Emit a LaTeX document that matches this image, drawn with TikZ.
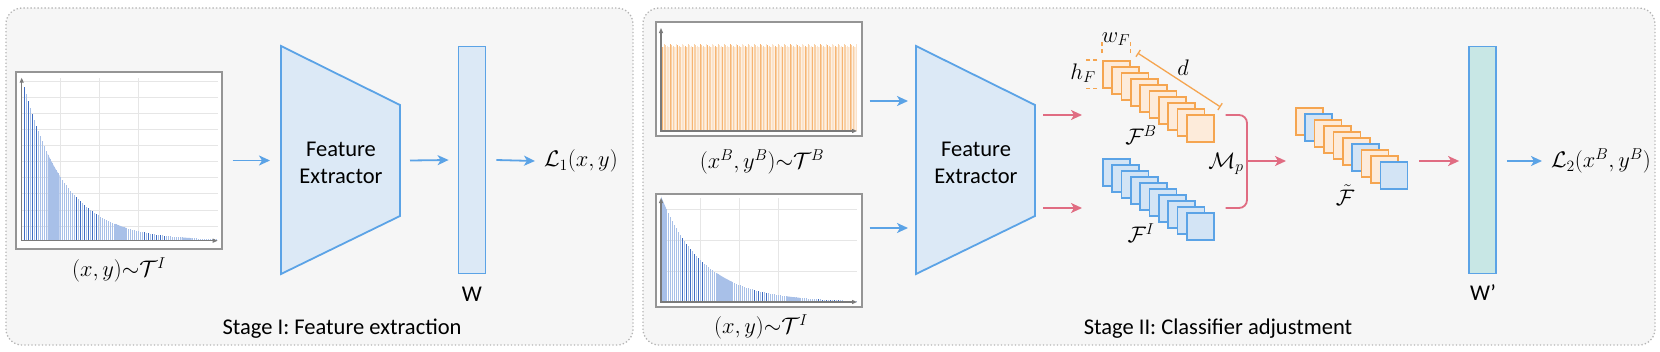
\RequirePackage{fix-cm}
\documentclass[tikz,border=0pt]{standalone}
\usepackage{fontspec}
\setmainfont{Carlito}
\usetikzlibrary{arrows.meta,calc,positioning}

\definecolor{panelbg}{HTML}{F6F6F6}
\definecolor{framegray}{HTML}{B4B4B4}
\definecolor{netblue}{HTML}{5BA3E6}
\definecolor{netfill}{HTML}{DCE9F6}
\definecolor{clsfill}{HTML}{C8E7E5}
\definecolor{mixred}{HTML}{E06C82}
\definecolor{featorange}{HTML}{F5A550}
\definecolor{featofill}{HTML}{FDEBDA}
\definecolor{featbfill}{HTML}{D3E4F5}
\definecolor{barL}{HTML}{A8C0E8}
\definecolor{barD}{HTML}{3E6CC2}
\definecolor{barOa}{HTML}{FBE3CB}
\definecolor{barOb}{HTML}{F9D0A5}
\definecolor{barOc}{HTML}{F6B574}
\definecolor{gridgray}{HTML}{E6E6E6}
\definecolor{axisgray}{HTML}{7A7A7A}

\begin{document}
\begin{tikzpicture}[x=1pt,y=-1pt,font=\fontsize{22.5}{27}\selectfont,
    panel/.style={draw=framegray,fill=panelbg,line width=1.3pt,dash pattern=on 1.3pt off 2.2pt,rounded corners=16pt},
    chart/.style={draw=axisgray!80,fill=white,line width=1.1pt,inner sep=0pt},
    gridln/.style={gridgray,line width=0.8pt},
    axln/.style={axisgray,line width=1.1pt,{Triangle[length=5pt,width=4pt]}-{Triangle[length=5pt,width=4pt]}},
    histbar/.style={line width=1pt},
    net/.style={draw=netblue,fill=netfill,line width=1.8pt},
    barrow/.style={netblue,line width=1.8pt,-{Stealth[length=11pt,width=10pt,inset=3pt]}},
    rarrow/.style={barrow,mixred},
    fmapO/.style={draw=featorange,fill=featofill,line width=1.6pt,minimum size=27pt,inner sep=0pt,anchor=north west},
    fmapB/.style={fmapO,draw=netblue,fill=featbfill},
    tickO/.style={featorange,line width=1.3pt,dash pattern=on 4pt off 3pt},
    dimO/.style={featorange,line width=1.3pt,{Bar[width=8pt]}-{Bar[width=8pt]}},
    sym/.style={inner sep=1pt},
    txt/.style={anchor=base,inner sep=0pt}]
  \useasboundingbox (0,0) rectangle (1660,351);
  \draw[panel] (6,8) rectangle (633,345);
  \draw[panel] (643,8) rectangle (1655,345);

  % stage I
  \node[chart,minimum width=206pt,minimum height=177pt] (histI) at (119,160.5) {};
  \begin{scope}[shift={(21.7,240.7)}]
    \foreach \j in {1,...,10}{\draw[gridln] (0,{1.4-16.1*\j}) -- (196,{1.4-16.1*\j});}
    \foreach \j in {1,2,3}{\draw[gridln] (39*\j,0) -- (39*\j,-163);}
    \foreach \a/\b in {26/38,93/105,160/170}{\fill[barL] (\a,0) -- plot[domain=\a:\b,samples=6] (\x,{-154*exp(-(\x-2.5)/41)}) -- (\b,0) -- cycle;}
    \foreach \i in {0,...,96}{
      \pgfmathsetmacro\h{154*exp(-2*\i/41)}
      \pgfmathtruncatemacro\k{(\i<7 || (\i>25 && \i<37) || (\i>59 && \i<72)) && mod(\i,2)==0}
      \ifnum\k=1 \def\bc{barD}\else\def\bc{barL}\fi
      \draw[histbar,\bc] (2.5+2*\i,0) -- ++(0,-\h);}
    \draw[axln] (0,-163) -- (0,0) -- (196,0);
  \end{scope}
  \node (lblI) at (119,270) {$(x,y){\sim}\mathcal{T}^I$};

  \draw[net] (281,46) -- (400,105) -- (400,216) -- (281,274) -- cycle;
  \coordinate (fe1w) at (281,160.5);
  \coordinate (fe1e) at (400,160.5);
  \node[align=center] (fe1) at (341,162.5) {Feature\\Extractor};
  \node[net,minimum width=27pt,minimum height=227pt,inner sep=0pt] (wbox) at (472,160) {};
  \node[txt] (wlbl) at (472,301) {W};
  \node[anchor=west,inner sep=0pt] (loss1) at (544,161) {$\mathcal{L}_1(x,y)$};
  \draw[barrow] ($(histI.east)+(10,0)$) -- ($(fe1w)+(-11,0)$);
  \draw[barrow] ($(fe1e)+(10,0)$) -- ($(wbox.west)+(-9,0)$);
  \draw[barrow] ($(wbox.east)+(10,0)$) -- ($(loss1.west)+(-9,0)$);
  \node[txt] (stage1) at (342,334) {Stage I: Feature extraction};

  % stage II: inputs
  \node[chart,minimum width=206pt,minimum height=114pt] (histB) at (759,79) {};
  \begin{scope}[shift={(661,131)}]
    \fill[barOa!55] (1,0) rectangle (196,-84);
    \foreach \i in {0,...,129}{
      \pgfmathtruncatemacro\k{mod(\i*7,5)}
      \pgfmathsetmacro\h{84+0.9*mod(\i*3,4)}
      \ifcase\k \def\bc{barOc}\or\def\bc{barOa}\or\def\bc{barOb}\or\def\bc{barOa}\else\def\bc{barOb}\fi
      \draw[histbar,\bc] (1.5+1.5*\i,0) -- ++(0,-\h);}
    \draw[axln] (0,-103) -- (0,0) -- (196,0);
  \end{scope}
  \node (lblB) at (762,162) {$(x^B,y^B){\sim}\mathcal{T}^B$};

  \node[chart,minimum width=206pt,minimum height=113pt] (histI2) at (759,250.5) {};
  \begin{scope}[shift={(661,302)}]
    \foreach \j in {1,2,3}{\draw[gridln] (0,-31*\j) -- (196,-31*\j);}
    \foreach \j in {1,2,3}{\draw[gridln] (39*\j,0) -- (39*\j,-104);}
    \foreach \a/\b in {0/5,56/71,126/139}{\fill[barL] (\a,0) -- plot[domain=\a:\b,samples=6] (\x,{-102*exp(-(\x-1.5)/43)}) -- (\b,0) -- cycle;}
    \foreach \i in {0,...,97}{
      \pgfmathsetmacro\h{102*exp(-2*\i/43)}
      \pgfmathtruncatemacro\k{((\i>9 && \i<21) || (\i>44 && \i<53) || (\i>77 && \i<89)) && mod(\i,2)==0}
      \ifnum\k=1 \def\bc{barD}\else\def\bc{barL}\fi
      \draw[histbar,\bc] (1.5+2*\i,0) -- ++(0,-\h);}
    \draw[axln] (0,-104) -- (0,0) -- (196,0);
  \end{scope}
  \node (lblI2) at (761,327) {$(x,y){\sim}\mathcal{T}^I$};

  % stage II: extractor and features
  \draw[net] (916,46) -- (1035,105) -- (1035,216) -- (916,274) -- cycle;
  \node[align=center] (fe2) at (976,162.5) {Feature\\Extractor};
  \coordinate (fe2inB) at (916,101);
  \coordinate (fe2inI) at (916,228);
  \coordinate (fe2outB) at (1035,115);
  \coordinate (fe2outI) at (1035,208);
  \draw[barrow] ($(histB.east |- fe2inB)+(7,0)$) -- ($(fe2inB)+(-8,0)$);
  \draw[barrow] ($(histI2.east |- fe2inI)+(7,0)$) -- ($(fe2inI)+(-8,0)$);

  \foreach \i in {0,...,9}{\node[fmapO] (fb\i) at (1102+9.33*\i,60+6*\i) {};}
  \foreach \i in {0,...,9}{\node[fmapB] (fi\i) at (1102+9.33*\i,158+6*\i) {};}
  \draw[rarrow] ($(fe2outB)+(8,0)$) -- ($(fb0.west |- fe2outB)+(-20,0)$);
  \draw[rarrow] ($(fe2outI)+(8,0)$) -- ($(fi0.west |- fe2outI)+(-20,0)$);

  \draw[tickO] ($(fb0.north west)+(0,-7)$) -- ++(0,-11);
  \draw[tickO] ($(fb0.north east)+(0,-7)$) -- ++(0,-11);
  \draw[tickO] ($(fb0.north west)+(-5,0)$) -- ++(-12,0);
  \draw[tickO] ($(fb0.south west)+(-5,0)$) -- ++(-12,0);
  \draw[dimO] ($(fb0.north east)+(7,-7)$) -- ($(fb9.north east)+(6,-7)$);
  \node[sym] (wFlbl) at (1116,39) {$w_F$};
  \node[sym] (hFlbl) at (1083,73) {$h_F$};
  \node[sym] (dlbl) at (1183,68) {$d$};
  \node[sym] (fBlbl) at (1141,135) {$\mathcal{F}^B$};
  \node[sym] (fIlbl) at (1141,233) {$\mathcal{F}^I$};

  % mixing
  \coordinate (merge) at (1247,161);
  \draw[mixred,line width=1.8pt,rounded corners=8pt] ($(fb9.east |- fe2outB)+(11,0)$) -- (merge |- fe2outB) -- (merge |- fe2outI) -- ($(fi9.east |- fe2outI)+(11,0)$);
  \node[sym] (mplbl) at (1226,164) {$\mathcal{M}_p$};
  \foreach \i/\c in {0/O,1/B,2/O,3/O,4/O,5/O,6/B,7/O,8/O,9/B}{\node[fmap\c] (fm\i) at (1295+9.4*\i,107+6*\i) {};}
  \draw[rarrow] (merge) -- ($(fm0.west |- merge)+(-9,0)$);
  \node[sym] (fMlbl) at (1345,195) {$\tilde{\mathcal{F}}$};

  % classifier
  \node[net,fill=clsfill,minimum width=27pt,minimum height=227pt,inner sep=0pt] (wpbox) at (1482.5,160) {};
  \node[txt] (wplbl) at (1483,300) {W’};
  \node[anchor=west,inner sep=0pt] (loss2) at (1551,161) {$\mathcal{L}_2(x^B,y^B)$};
  \draw[rarrow] ($(fm9.east |- merge)+(11,0)$) -- ($(wpbox.west |- merge)+(-9,0)$);
  \draw[barrow] ($(wpbox.east |- merge)+(10,0)$) -- ($(loss2.west |- merge)+(-9,0)$);
  \node[txt] (stage2) at (1218,334) {Stage II: Classifier adjustment};
\end{tikzpicture}
\end{document}
